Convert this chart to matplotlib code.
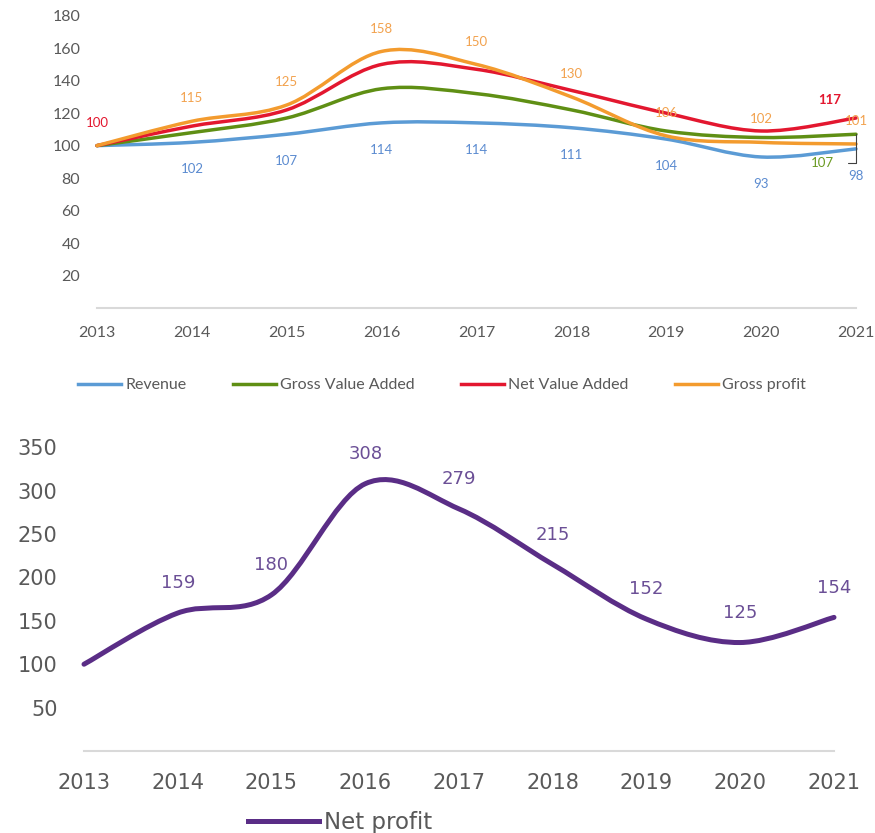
import matplotlib
matplotlib.use("Agg")
import matplotlib.pyplot as plt
from matplotlib.path import Path
from matplotlib.patches import PathPatch
from matplotlib.lines import Line2D

years = [2013, 2014, 2015, 2016, 2017, 2018, 2019, 2020, 2021]
year_labels = ["2013", "2014", "2015", "2016", "2017", "2018", "2019", "2020", "2021"]

revenue = [100, 102, 107, 114, 114, 111, 104, 93, 98]
gross_value_added = [100, 108, 117, 135, 132, 122, 109, 105, 107]
net_value_added = [100, 112, 122, 150, 147, 134, 120, 109, 117]
gross_profit = [100, 115, 125, 158, 150, 130, 106, 102, 101]
net_profit = [100, 159, 180, 308, 279, 215, 152, 125, 154]

top_series = ["Revenue", "Gross Value Added", "Net Value Added", "Gross profit"]
top_yticks = [20, 40, 60, 80, 100, 120, 140, 160, 180]
bottom_yticks = [50, 100, 150, 200, 250, 300, 350]

C_BLUE = "#5b9bd5"
C_GREEN = "#5f8f14"
C_RED = "#e3172f"
C_ORANGE = "#f39b2e"
C_PURPLE = "#5a2d86"
GRAY = "#595959"


def smooth_path(xs, ys):
    n = len(xs)
    verts = [(xs[0], ys[0])]
    codes = [Path.MOVETO]
    for i in range(n - 1):
        xp, yp = (xs[i - 1], ys[i - 1]) if i > 0 else (xs[0], ys[0])
        xn2, yn2 = (xs[i + 2], ys[i + 2]) if i + 2 < n else (xs[-1], ys[-1])
        c1 = (xs[i] + (xs[i + 1] - xp) / 6.0, ys[i] + (ys[i + 1] - yp) / 6.0)
        c2 = (xs[i + 1] - (xn2 - xs[i]) / 6.0, ys[i + 1] - (yn2 - ys[i]) / 6.0)
        verts += [c1, c2, (xs[i + 1], ys[i + 1])]
        codes += [Path.CURVE4] * 3
    return Path(verts, codes)


fig = plt.figure(figsize=(8.75, 8.33), dpi=100)

# ---------------- top chart ----------------
ax1 = fig.add_axes([97 / 875, 1 - 308 / 833, (856 - 97) / 875, (308 - 15.7) / 833])
ax1.set_xlim(2013, 2021)
ax1.set_ylim(0, 180)
for s in ["top", "right", "left"]:
    ax1.spines[s].set_visible(False)
ax1.spines["bottom"].set_color("#d9d9d9")
ax1.spines["bottom"].set_linewidth(1.5)
ax1.set_xticks(years)
ax1.set_xticklabels(year_labels, family="Lato", fontsize=11.5, color=GRAY)
ax1.set_yticks(top_yticks)
ax1.set_yticklabels([str(v) for v in top_yticks], family="Lato", fontsize=11.5, color=GRAY)
ax1.tick_params(axis="x", length=0, pad=13)
ax1.tick_params(axis="y", length=0, pad=12)

series_top = [(revenue, C_BLUE), (gross_value_added, C_GREEN),
              (net_value_added, C_RED), (gross_profit, C_ORANGE)]
for vals, col in series_top:
    ax1.add_patch(PathPatch(smooth_path(years, vals), facecolor="none",
                            edgecolor=col, lw=2.5, clip_on=False, capstyle="round"))

lab_kw = dict(textcoords="offset points", ha="center", va="center",
              family="Lato", fontsize=9.5)
# revenue labels below
for x, v in zip(years[1:], revenue[1:]):
    ax1.annotate(str(v), (x, v), xytext=(0, -19.5), color="#5b8bd0", **lab_kw)
# gross profit labels above
for x, v in zip(years[1:], gross_profit[1:]):
    ax1.annotate(str(v), (x, v), xytext=(0, 16.5), color="#f2a24e", **lab_kw)
# net value added labels
ax1.annotate(str(net_value_added[0]), (years[0], net_value_added[0]), xytext=(0, 16),
             color=C_RED, **lab_kw)
ax1.annotate(str(net_value_added[-1]), (years[-1], net_value_added[-1]), xytext=(-19, 13),
             color=C_RED, fontweight="bold", **lab_kw)
# gross value added label with leader
ax1.annotate(str(gross_value_added[-1]), (years[-1], gross_value_added[-1]), xytext=(-24, -21),
             color="#6b9b23", arrowprops=dict(arrowstyle="-", color="#404040", lw=0.8,
                                               shrinkA=8, shrinkB=0,
                                               connectionstyle="angle,angleA=0,angleB=90,rad=0"),
             **lab_kw)

handles = [Line2D([], [], color=c, lw=2.5) for _, c in series_top]
fig.legend(handles, top_series, loc="center", bbox_to_anchor=(0.505, 1 - 385 / 833),
           ncol=4, frameon=False, handlelength=2.7, handletextpad=0.25,
           columnspacing=2.9, prop={"family": "Lato", "size": 11.5}, labelcolor=GRAY)

# ---------------- bottom chart ----------------
ax2 = fig.add_axes([84 / 875, 1 - 751 / 833, (834 - 84) / 875, (751 - 447.3) / 833])
ax2.set_xlim(2013, 2021)
ax2.set_ylim(0, 350)
for s in ["top", "right", "left"]:
    ax2.spines[s].set_visible(False)
ax2.spines["bottom"].set_color("#d9d9d9")
ax2.spines["bottom"].set_linewidth(1.5)
ax2.set_xticks(years)
ax2.set_xticklabels(year_labels, family="DejaVu Sans", fontsize=15, color=GRAY)
ax2.set_yticks(bottom_yticks)
ax2.set_yticklabels([str(v) for v in bottom_yticks], family="DejaVu Sans", fontsize=15, color=GRAY)
ax2.tick_params(axis="x", length=0, pad=15.5)
ax2.tick_params(axis="y", length=0, pad=19)

ax2.add_patch(PathPatch(smooth_path(years, net_profit), facecolor="none",
                        edgecolor=C_PURPLE, lw=3.6, clip_on=False, capstyle="round"))
for x, v in zip(years[1:], net_profit[1:]):
    ax2.annotate(str(v), (x, v), xytext=(0, 21.5), textcoords="offset points",
                 ha="center", va="center", family="DejaVu Sans", fontsize=13,
                 color="#6b4f96")

fig.legend([Line2D([], [], color=C_PURPLE, lw=3.6)], ["Net profit"], loc="center",
           bbox_to_anchor=(0.389, 1 - 823 / 833), frameon=False, handlelength=3.1,
           handletextpad=0.22, prop={"family": "DejaVu Sans", "size": 16.5},
           labelcolor=GRAY)

fig.savefig("out.png", dpi=100, facecolor="white")
